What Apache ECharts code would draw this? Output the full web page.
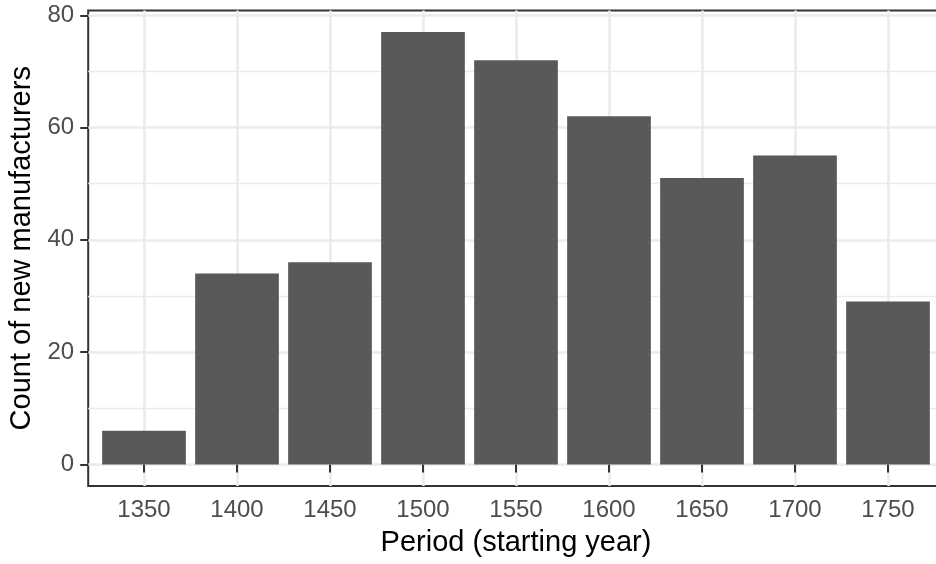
<!DOCTYPE html>
<html>
<head>
<meta charset="utf-8">
<script src="https://cdn.jsdelivr.net/npm/echarts@6/dist/echarts.min.js"></script>
<style>html,body{margin:0;padding:0;background:#fff;}#c{width:936px;height:564px;}</style>
</head>
<body>
<div id="c"></div>
<script>
const periods = [1350, 1400, 1450, 1500, 1550, 1600, 1650, 1700, 1750];
const counts = [6, 34, 36, 77, 72, 62, 51, 55, 29];
const yTicks = [0, 20, 40, 60, 80];
const yMinor = [10, 30, 50, 70];
const xTitle = 'Period (starting year)';
const yTitle = 'Count of new manufacturers';

const chart = echarts.init(document.getElementById('c'), null, {renderer: 'canvas'});
const FONT = 'Liberation Sans, Arial, sans-serif';
chart.setOption({
  backgroundColor: '#ffffff',
  animation: false,
  grid: {left: 88.2, top: 10.5, width: 855.6, height: 475.5, show: true,
         borderColor: '#333333', borderWidth: 2, backgroundColor: 'transparent',
         containLabel: false, outerBoundsMode: 'none'},
  xAxis: {
    type: 'value', min: 1320, max: 1780,
    name: xTitle, nameLocation: 'middle', nameGap: 42,
    nameTextStyle: {color: '#000', fontSize: 29, fontFamily: FONT},
    axisLine: {show: false},
    axisTick: {show: true, customValues: periods, length: 8, lineStyle: {color: '#333333', width: 2}},
    axisLabel: {customValues: periods, formatter: v => String(v), color: '#4D4D4D', fontSize: 24, fontFamily: FONT, margin: 12},
    splitLine: {show: true, lineStyle: {color: '#EBEBEB', width: 2.6}}
  },
  yAxis: [{
    type: 'value', min: -3.85, max: 80.85,
    name: yTitle, nameLocation: 'middle', nameGap: 52,
    nameTextStyle: {color: '#000', fontSize: 29, fontFamily: FONT},
    axisLine: {show: false},
    axisTick: {show: true, customValues: yTicks, length: 8, lineStyle: {color: '#333333', width: 2}},
    axisLabel: {customValues: yTicks, formatter: v => String(v), color: '#4D4D4D', fontSize: 24, fontFamily: FONT, margin: 14},
    splitLine: {show: true, lineStyle: {color: '#EBEBEB', width: 2.6}}
  }, {
    type: 'value', min: -3.85, max: 80.85, position: 'left',
    axisLine: {show: false},
    axisTick: {show: false, customValues: yMinor},
    axisLabel: {show: false, customValues: yMinor},
    splitLine: {show: true, lineStyle: {color: '#EBEBEB', width: 1.3}}
  }],
  series: [{
    type: 'bar', yAxisIndex: 0,
    data: periods.map((p, i) => [p, counts[i]]),
    barWidth: 83.7,
    itemStyle: {color: '#595959'}
  }]
});
</script>
</body>
</html>
